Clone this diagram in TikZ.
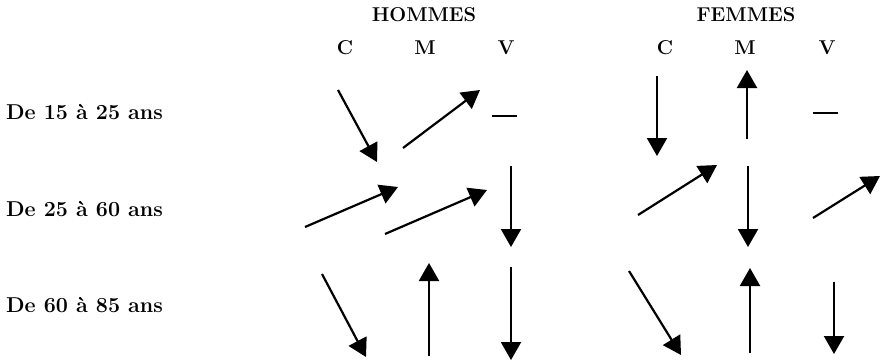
\documentclass[tikz,border=0pt]{standalone}
\usetikzlibrary{arrows.meta}
\begin{document}
\begin{tikzpicture}[x=1pt,y=-1pt,
  hdr/.style={font=\fontsize{20}{23}\selectfont\bfseries, inner sep=0pt},
  lbl/.style={font=\fontsize{21.5}{24}\selectfont\bfseries, inner sep=0pt},
  trend/.style={line width=2.2pt, -{Triangle[length=18pt,width=20pt]}},
  flat/.style={line width=2.4pt}]
\useasboundingbox (0,0) rectangle (881,362);
% headers
\node[hdr] (hom) at (424,15) {HOMMES};
\node[hdr] (fem) at (746,15) {FEMMES};
\node[hdr] (hc) at (345,48) {C};
\node[hdr] (hm) at (425,48) {M};
\node[hdr] (hv) at (506,48) {V};
\node[hdr] (fc) at (665,48) {C};
\node[hdr] (fm) at (745,48) {M};
\node[hdr] (fv) at (827,48) {V};
% row labels
\node[lbl,anchor=west] (r1) at (6,112) {De 15 à 25 ans};
\node[lbl,anchor=west] (r2) at (6,209) {De 25 à 60 ans};
\node[lbl,anchor=west] (r3) at (6,305) {De 60 à 85 ans};
% coordinates hommes
\coordinate (h1a) at (338,90);  \coordinate (h1b) at (377,162);
\coordinate (h1c) at (403,148); \coordinate (h1d) at (480,90);
\coordinate (h1e) at (492,116); \coordinate (h1f) at (517,116);
\coordinate (h2a) at (305,227); \coordinate (h2b) at (398,187);
\coordinate (h2c) at (385,234); \coordinate (h2d) at (487,190);
\coordinate (h2e) at (511,166); \coordinate (h2f) at (511,247);
\coordinate (h3a) at (322,274); \coordinate (h3b) at (366,357);
\coordinate (h3c) at (429,356); \coordinate (h3d) at (429,263);
\coordinate (h3e) at (511,267); \coordinate (h3f) at (511,360);
% coordinates femmes
\coordinate (f1a) at (657,76);  \coordinate (f1b) at (657,156);
\coordinate (f1c) at (747,139); \coordinate (f1d) at (747,70);
\coordinate (f1e) at (813,113); \coordinate (f1f) at (838,113);
\coordinate (f2a) at (638,215); \coordinate (f2b) at (717,165);
\coordinate (f2c) at (748,166); \coordinate (f2d) at (748,247);
\coordinate (f2e) at (813,218); \coordinate (f2f) at (880,176);
\coordinate (f3a) at (629,271); \coordinate (f3b) at (681,355);
\coordinate (f3c) at (750,353); \coordinate (f3d) at (750,268);
\coordinate (f3e) at (834,282); \coordinate (f3f) at (834,354);
% arrows
\draw[trend] (h1a) -- (h1b);
\draw[trend] (h1c) -- (h1d);
\draw[flat]  (h1e) -- (h1f);
\draw[trend] (h2a) -- (h2b);
\draw[trend] (h2c) -- (h2d);
\draw[trend] (h2e) -- (h2f);
\draw[trend] (h3a) -- (h3b);
\draw[trend] (h3c) -- (h3d);
\draw[trend] (h3e) -- (h3f);
\draw[trend] (f1a) -- (f1b);
\draw[trend] (f1c) -- (f1d);
\draw[flat]  (f1e) -- (f1f);
\draw[trend] (f2a) -- (f2b);
\draw[trend] (f2c) -- (f2d);
\draw[trend] (f2e) -- (f2f);
\draw[trend] (f3a) -- (f3b);
\draw[trend] (f3c) -- (f3d);
\draw[trend] (f3e) -- (f3f);
\end{tikzpicture}
\end{document}
